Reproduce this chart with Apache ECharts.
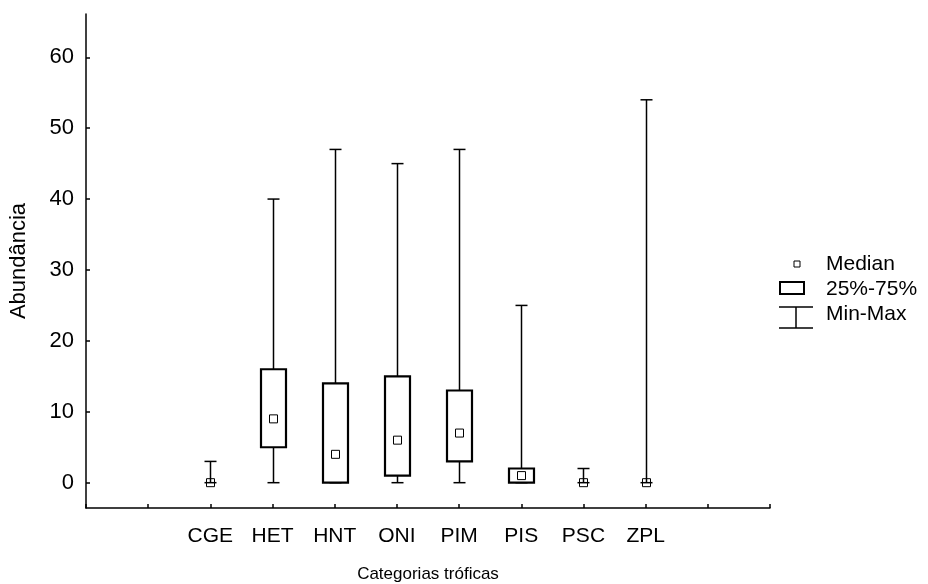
<!DOCTYPE html>
<html>
<head>
<meta charset="utf-8">
<script src="https://cdn.jsdelivr.net/npm/echarts@6/dist/echarts.min.js"></script>
<style>
  html, body { margin: 0; padding: 0; background: #fff; }
  #main { width: 928px; height: 584px; }
</style>
</head>
<body>
<div id="main"></div>
<script>
// dados
var categories = ['CGE', 'HET', 'HNT', 'ONI', 'PIM', 'PIS', 'PSC', 'ZPL'];
var minVals = [0, 0, 0, 0, 0, 0, 0, 0];
var q1Vals = [0, 5, 0, 1, 3, 0, 0, 0];
var medianVals = [0, 9, 4, 6, 7, 1, 0, 0];
var q3Vals = [0, 16, 14, 15, 13, 2, 0, 0];
var maxVals = [3, 40, 47, 45, 47, 25, 2, 54];
var yTicks = [0, 10, 20, 30, 40, 50, 60];

var FONT = 'Liberation Sans, Arial, sans-serif';

// posição 1 e 10 ficam vazias, como no original
var seriesData = categories.map(function (c, i) {
    return [i + 2, minVals[i], q1Vals[i], medianVals[i], q3Vals[i], maxVals[i]];
});

function renderBox(params, api) {
    var x = api.value(0);
    var pMin = api.coord([x, api.value(1)]);
    var pQ1 = api.coord([x, api.value(2)]);
    var pMed = api.coord([x, api.value(3)]);
    var pQ3 = api.coord([x, api.value(4)]);
    var pMax = api.coord([x, api.value(5)]);
    var cx = Math.round(pMin[0]) + 0.5;
    var boxW = 25, capW = 12, medW = 8;
    var line = { stroke: '#000', lineWidth: 1.5 };
    var children = [
        { type: 'line', shape: { x1: cx, y1: pMin[1], x2: cx, y2: pMax[1] }, style: line },
        { type: 'line', shape: { x1: cx - capW / 2, y1: pMin[1], x2: cx + capW / 2, y2: pMin[1] }, style: line },
        { type: 'line', shape: { x1: cx - capW / 2, y1: pMax[1], x2: cx + capW / 2, y2: pMax[1] }, style: line }
    ];
    if (pQ1[1] - pQ3[1] > 1) {
        children.push({
            type: 'rect',
            shape: { x: cx - boxW / 2, y: pQ3[1], width: boxW, height: pQ1[1] - pQ3[1] },
            style: { fill: '#fff', stroke: '#000', lineWidth: 2.2 }
        });
    }
    children.push({
        type: 'rect',
        shape: { x: cx - medW / 2, y: pMed[1] - medW / 2, width: medW, height: medW },
        style: { fill: 'none', stroke: '#000', lineWidth: 1 }
    });
    return { type: 'group', children: children };
}

var chart = echarts.init(document.getElementById('main'));
var option = {
    backgroundColor: '#fff',
    animation: false,
    grid: { left: 86, right: 158, top: 14, bottom: 76, outerBoundsMode: 'none' },
    xAxis: {
        type: 'value',
        min: 0,
        max: 11,
        interval: 1,
        name: 'Categorias tróficas',
        nameLocation: 'middle',
        nameGap: 58,
        nameTextStyle: { color: '#000', fontSize: 17, fontFamily: FONT },
        axisLine: { onZero: false, lineStyle: { color: '#000', width: 1.5 } },
        axisTick: { inside: true, length: 4, lineStyle: { color: '#000', width: 1.5 } },
        axisLabel: {
            color: '#000', fontSize: 21, fontFamily: FONT, margin: 18,
            formatter: function (v) { return categories[v - 2] || ''; }
        },
        splitLine: { show: false }
    },
    yAxis: {
        type: 'value',
        min: -3.57,
        max: 66.1,
        name: 'Abundância',
        nameLocation: 'middle',
        nameGap: 56,
        nameTextStyle: { color: '#000', fontSize: 22, fontFamily: FONT },
        axisLine: { show: true, onZero: false, lineStyle: { color: '#000', width: 1.5 } },
        axisTick: { show: true, inside: true, length: 4, customValues: yTicks, lineStyle: { color: '#000', width: 1.5 } },
        axisLabel: { color: '#000', fontSize: 22, fontFamily: FONT, margin: 12, customValues: yTicks },
        splitLine: { show: false }
    },
    series: [{
        type: 'custom',
        renderItem: renderBox,
        encode: { x: 0, y: [1, 2, 3, 4, 5] },
        data: seriesData
    }],
    graphic: [
        { type: 'rect', shape: { x: 794, y: 261, width: 6, height: 6 }, style: { fill: 'none', stroke: '#000', lineWidth: 1 } },
        { type: 'text', x: 826, y: 264, style: { text: 'Median', fill: '#000', fontSize: 21, fontFamily: FONT, verticalAlign: 'middle' } },
        { type: 'rect', shape: { x: 780, y: 282, width: 24, height: 12 }, style: { fill: 'none', stroke: '#000', lineWidth: 2 } },
        { type: 'text', x: 826, y: 289, style: { text: '25%-75%', fill: '#000', fontSize: 21, fontFamily: FONT, verticalAlign: 'middle' } },
        { type: 'line', shape: { x1: 779, y1: 307, x2: 813, y2: 307 }, style: { stroke: '#000', lineWidth: 1.5 } },
        { type: 'line', shape: { x1: 796, y1: 307, x2: 796, y2: 328 }, style: { stroke: '#000', lineWidth: 1.5 } },
        { type: 'line', shape: { x1: 779, y1: 328, x2: 813, y2: 328 }, style: { stroke: '#000', lineWidth: 1.5 } },
        { type: 'text', x: 826, y: 314, style: { text: 'Min-Max', fill: '#000', fontSize: 21, fontFamily: FONT, verticalAlign: 'middle' } }
    ]
};
chart.setOption(option);
</script>
</body>
</html>
